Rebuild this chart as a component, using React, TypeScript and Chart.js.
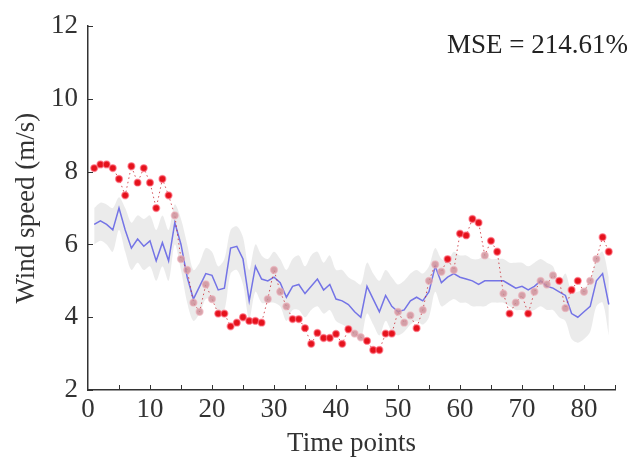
import React, { useEffect, useRef } from 'react';
import { Chart, registerables } from 'chart.js';

Chart.register(...registerables);

// Observed wind speed (red dots), t = 1..84
const observed = [
  8.1, 8.2, 8.2, 8.1, 7.8, 7.35, 8.15, 7.7, 8.1, 7.7,
  7.0, 7.8, 7.35, 6.8, 5.6, 5.3, 4.4, 4.15, 4.9, 4.5,
  4.1, 4.1, 3.75, 3.85, 4.0, 3.9, 3.9, 3.85, 4.5, 5.3,
  4.7, 4.3, 3.95, 3.95, 3.7, 3.27, 3.57, 3.43, 3.43, 3.54,
  3.27, 3.67, 3.55, 3.45, 3.35, 3.1, 3.1, 3.55, 3.55, 4.15,
  3.85, 4.05, 3.7, 4.2, 5.0, 5.45, 5.25, 5.6, 5.3, 6.3,
  6.25, 6.7, 6.6, 5.7, 6.1, 5.8, 4.65, 4.1, 4.4, 4.6,
  4.1, 4.7, 5.0, 4.9, 5.15, 5.0, 4.25, 4.75, 5.0, 4.7,
  5.0, 5.6, 6.2, 5.8,
];

// Predicted mean (blue line)
const predicted = [
  6.55, 6.65, 6.55, 6.4, 7.0, 6.4, 5.9, 6.15, 5.95, 6.1,
  5.55, 6.05, 5.55, 6.6, 6.0, 5.1, 4.5, 4.85, 5.2, 5.15,
  4.75, 4.8, 5.9, 5.95, 5.6, 4.45, 5.4, 5.05, 5.0, 5.1,
  4.95, 4.55, 4.85, 4.9, 4.65, 4.85, 5.05, 4.75, 4.9, 4.5,
  4.45, 4.35, 4.15, 4.0, 4.85, 4.5, 4.15, 4.6, 4.3, 4.15,
  4.2, 4.45, 4.55, 4.45, 4.7, 5.4, 4.95, 5.1, 5.2, 5.1,
  5.05, 5.0, 4.9, 5.0, 5.0, 5.0, 5.0, 4.9, 4.8, 4.85,
  4.75, 4.85, 5.0, 4.85, 4.8, 4.7, 4.6, 4.1, 4.0, 4.15,
  4.3, 5.0, 5.2, 4.35,
];

// Prediction interval (grey band)
const upperBound = [
  7.0, 7.15, 7.1, 7.0, 7.3, 7.0, 6.6, 6.8, 6.7, 6.8,
  6.4, 6.8, 6.4, 7.1, 6.7, 6.0, 5.3, 5.5, 5.9, 5.8,
  5.4, 5.6, 6.4, 6.5, 6.2, 5.3, 6.0, 5.7, 5.6, 5.8,
  5.6, 5.3, 5.6, 5.7, 5.4, 5.7, 5.8, 5.5, 5.7, 5.3,
  5.3, 5.1, 5.0, 4.9, 5.5, 5.2, 5.0, 5.3, 5.1, 4.9,
  5.0, 5.2, 5.3, 5.2, 5.4, 5.9, 5.6, 5.55, 5.8, 5.7,
  5.7, 5.6, 5.6, 5.7, 5.6, 5.6, 5.6, 5.5, 5.5, 5.5,
  5.4, 5.5, 5.6, 5.5, 5.4, 4.95, 5.2, 4.7, 4.7, 4.8,
  5.0, 5.6, 5.8, 5.1,
];
const lowerBound = [
  6.0, 6.1, 6.0, 5.8, 6.4, 5.8, 5.3, 5.5, 5.3, 5.4,
  5.0, 5.4, 5.0, 6.0, 5.3, 4.4, 3.9, 4.1, 4.5, 4.5,
  4.15, 4.2, 5.2, 5.3, 4.9, 3.95, 4.7, 4.4, 4.4, 4.4,
  4.3, 3.9, 4.2, 4.2, 4.0, 4.2, 4.3, 4.1, 4.2, 3.9,
  3.8, 3.7, 3.5, 3.4, 4.1, 3.8, 3.5, 3.9, 3.6, 3.5,
  3.6, 3.8, 3.9, 3.8, 4.0, 4.7, 4.3, 4.4, 4.5, 4.4,
  4.4, 4.3, 4.3, 4.3, 4.4, 4.4, 4.4, 4.3, 4.2, 4.2,
  4.15, 4.2, 4.3, 4.2, 4.2, 4.0, 3.9, 3.4, 3.3, 3.4,
  3.6, 4.3, 4.4, 3.5,
];

const xTickValues = [0, 10, 20, 30, 40, 50, 60, 70, 80];
const xMinorTicks = [5, 10, 15, 20, 25, 30, 35, 40, 45, 50, 55, 60, 65, 70, 75, 80, 85];
const yTickValues = [2, 4, 6, 8, 10, 12];
const mseLabel = 'MSE = 214.61%';

const SERIF = '"Liberation Serif", "Times New Roman", serif';

const toPoints = (arr: number[]) => arr.map((v, i) => ({ x: i + 1, y: v }));

const decorPlugin = {
  id: 'decor',
  afterDraw(chart: any) {
    const { ctx, chartArea, scales } = chart;
    const x = scales.x;
    const y = scales.y;
    ctx.save();
    ctx.strokeStyle = '#333';
    ctx.lineWidth = 1;
    ctx.beginPath();
    for (const v of xMinorTicks) {
      const px = Math.round(x.getPixelForValue(v)) + 0.5;
      ctx.moveTo(px, chartArea.bottom);
      ctx.lineTo(px, chartArea.bottom - 5);
    }
    for (const v of yTickValues) {
      const py = Math.round(y.getPixelForValue(v)) + 0.5;
      ctx.moveTo(chartArea.left, py);
      ctx.lineTo(chartArea.left + 5, py);
    }
    ctx.stroke();
    ctx.font = `27px ${SERIF}`;
    ctx.fillStyle = '#222';
    ctx.textAlign = 'right';
    ctx.textBaseline = 'middle';
    ctx.fillText(mseLabel, chart.width - 16, 46);
    ctx.restore();
  },
};

export default function App() {
  const canvasRef = useRef<HTMLCanvasElement | null>(null);

  useEffect(() => {
    if (!canvasRef.current) return;
    const inBand = (ctx: any) => {
      const i = ctx.dataIndex;
      const v = observed[i];
      return v >= lowerBound[i] && v <= upperBound[i];
    };
    const chart = new Chart(canvasRef.current, {
      type: 'line',
      data: {
        datasets: [
          {
            label: 'upper',
            data: toPoints(upperBound),
            borderWidth: 0,
            pointRadius: 0,
            backgroundColor: 'rgba(222,222,222,0.6)',
            fill: '+1',
            tension: 0.3,
            order: 4,
          },
          {
            label: 'lower',
            data: toPoints(lowerBound),
            borderWidth: 0,
            pointRadius: 0,
            fill: false,
            tension: 0.3,
            order: 3,
          },
          {
            label: 'predicted',
            data: toPoints(predicted),
            borderColor: '#7474e6',
            borderWidth: 1.5,
            pointRadius: 0,
            fill: false,
            order: 2,
          },
          {
            label: 'observed',
            data: toPoints(observed),
            borderColor: 'rgba(200,40,50,0.8)',
            borderWidth: 1,
            borderDash: [1.5, 3],
            fill: false,
            pointRadius: 3.4,
            pointBorderWidth: 1.5,
            pointBackgroundColor: (ctx: any) => (inBand(ctx) ? 'rgba(205,140,150,0.8)' : '#e5121c'),
            pointBorderColor: (ctx: any) => (inBand(ctx) ? 'rgba(235,175,185,0.6)' : 'rgba(255,110,130,0.6)'),
            order: 1,
          },
        ],
      },
      options: {
        animation: false,
        responsive: true,
        maintainAspectRatio: false,
        layout: { padding: { top: 20, right: 29, bottom: 0, left: 0 } },
        plugins: {
          legend: { display: false },
          tooltip: { enabled: false },
          filler: { drawTime: 'beforeDatasetsDraw' },
        },
        scales: {
          x: {
            type: 'linear',
            min: 0,
            max: 85,
            afterBuildTicks: (s: any) => {
              s.ticks = xTickValues.map((v) => ({ value: v }));
            },
            afterFit: (s: any) => {
              s.height = 74;
            },
            grid: { display: false, drawTicks: false },
            border: { display: true, color: '#333', width: 1.5 },
            ticks: {
              font: { family: SERIF, size: 27 },
              color: '#333',
              padding: 4,
              maxRotation: 0,
              autoSkip: false,
            },
            title: {
              display: true,
              text: 'Time points',
              font: { family: SERIF, size: 27 },
              color: '#333',
              padding: { top: 0, bottom: 4 },
            },
          },
          y: {
            type: 'linear',
            min: 2,
            max: 12,
            afterBuildTicks: (s: any) => {
              s.ticks = yTickValues.map((v) => ({ value: v }));
            },
            afterFit: (s: any) => {
              s.width = 88;
            },
            grid: { display: false, drawTicks: false },
            border: { display: true, color: '#333', width: 1.5 },
            ticks: {
              font: { family: SERIF, size: 27 },
              color: '#333',
              padding: 10,
            },
            title: {
              display: true,
              text: 'Wind speed (m/s)',
              font: { family: SERIF, size: 27 },
              color: '#333',
              padding: { top: 11, bottom: 0 },
            },
          },
        },
      },
      plugins: [decorPlugin],
    });
    return () => chart.destroy();
  }, []);

  return (
    <div style={{ position: 'fixed', left: 0, top: 0, width: 644, height: 464, background: '#fff' }}>
      <canvas ref={canvasRef} />
    </div>
  );
}
